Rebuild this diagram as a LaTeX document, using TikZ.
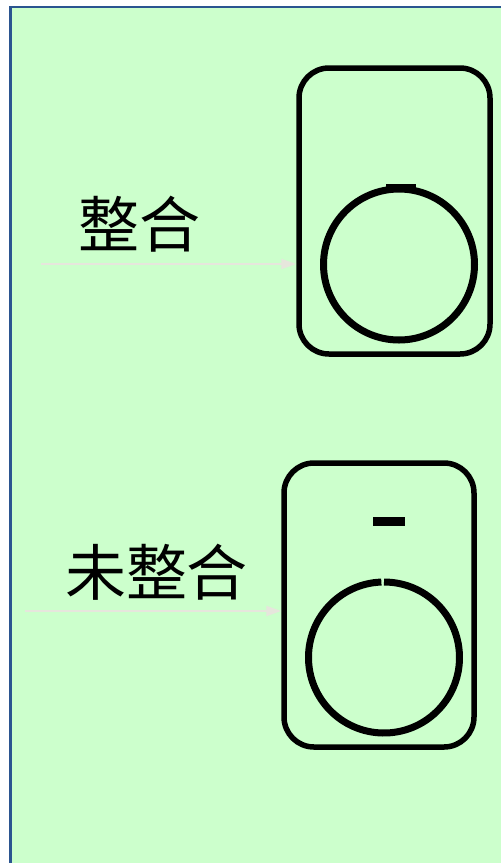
\documentclass[tikz,border=0pt]{standalone}
\usepackage{fontspec}
\newfontfamily\cjk{Noto Sans CJK TC}
\usetikzlibrary{arrows.meta}
\definecolor{bggreen}{HTML}{CCFFCC}
\definecolor{frameblue}{HTML}{2B5590}
\definecolor{arrowgray}{HTML}{E6E6DC}
\tikzset{
  panel/.style={draw=black, line width=5.5pt, rounded corners=30pt, rectangle, inner sep=0pt, fill=none},
  ring/.style={draw=black, line width=7pt, circle, inner sep=0pt},
  label/.style={font=\cjk\fontsize{61}{61}\selectfont, inner sep=0pt, anchor=center},
  feed/.style={draw=arrowgray, line width=2pt, -{Triangle[length=15pt,width=10pt]}},
  bar/.style={fill=black, draw=none}
}
\begin{document}
\begin{tikzpicture}[x=1pt,y=-1pt]
\useasboundingbox (0,0) rectangle (501,863);
% background
\fill[bggreen] (10.5,7) rectangle (501,863);
\draw[frameblue, line width=2.6pt] (10.5,863) -- (10.5,7) -- (501,7);
% top group
\node[panel, minimum width=191pt, minimum height=286pt] (tb) at (394.5,211) {};
\node[ring, minimum size=151pt] (c1) at (399,264.5) {};
\fill[bar] (386,183.5) rectangle (416,190);
\node[label] (t1) at (139,224) {整合};
\coordinate (a1) at (41,264);
\draw[feed] (a1) -- (a1 -| tb.west);
% bottom group
\node[panel, minimum width=190pt, minimum height=284pt] (bb) at (379,605) {};
\coordinate (c2) at (384,657.5);
\draw[black, line width=7pt] ([shift={(92:75.5pt)}]c2) arc[start angle=92, end angle=450, radius=75.5pt];
\fill[bar] (373,517) rectangle (405,526);
\node[label] (t2) at (156.5,572) {未整合};
\coordinate (a2) at (25,611);
\draw[feed] (a2) -- (a2 -| bb.west);
\end{tikzpicture}
\end{document}
